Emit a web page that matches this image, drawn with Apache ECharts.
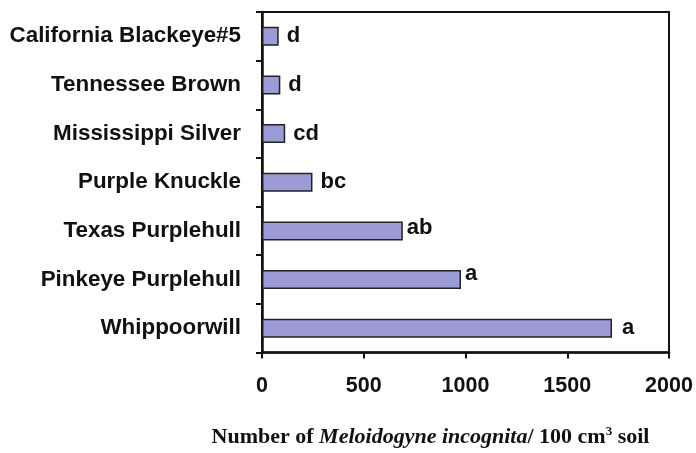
<!DOCTYPE html>
<html>
<head>
<meta charset="utf-8">
<script src="https://cdn.jsdelivr.net/npm/echarts@6/dist/echarts.min.js"></script>
<style>html,body{margin:0;padding:0;background:#fff;}#c{width:696px;height:453px;}</style>
</head>
<body>
<div id="c"></div>
<script>
const categories = ["California Blackeye#5", "Tennessee Brown", "Mississippi Silver", "Purple Knuckle", "Texas Purplehull", "Pinkeye Purplehull", "Whippoorwill"];
const values = [82, 90, 114, 248, 692, 978, 1720];
const letters = ["d", "d", "cd", "bc", "ab", "a", "a"];
const xTicks = [0, 500, 1000, 1500, 2000];

const chart = echarts.init(document.getElementById('c'));
const sans = '"Liberation Sans", Arial, sans-serif';
const serif = '"Liberation Serif", "Times New Roman", serif';
// small per-bar label nudges seen in the original figure
const labelTweaks = { 4: { distance: 4, offset: [0, -3] }, 5: { distance: 4, offset: [0, -6] }, 6: { distance: 10 } };
chart.setOption({
  animation: false,
  grid: { left: 262, right: 27, top: 12, bottom: 100, show: true, borderColor: '#111', borderWidth: 2, backgroundColor: 'transparent' },
  xAxis: {
    type: 'value', min: xTicks[0], max: xTicks[xTicks.length - 1], interval: 500,
    axisLine: { show: true, lineStyle: { color: '#111', width: 2.5 } },
    axisTick: { show: true, inside: false, length: 6, lineStyle: { color: '#111', width: 2 } },
    splitLine: { show: false },
    axisLabel: { margin: 23, color: '#111', fontFamily: sans, fontWeight: 'bold', fontSize: 21.5, formatter: v => String(v) },
    name: '{b|Number of }{i|Meloidogyne incognita}{b|/ 100 cm}{s|3}{b| soil}',
    nameLocation: 'middle', nameGap: 73,
    nameTextStyle: {
      padding: [0, 70, 0, 0],
      rich: {
        b: { fontFamily: serif, fontWeight: 'bold', fontSize: 22, color: '#111' },
        i: { fontFamily: serif, fontWeight: 'bold', fontStyle: 'italic', fontSize: 22, color: '#111' },
        s: { fontFamily: serif, fontWeight: 'bold', fontSize: 13, color: '#111', padding: [0, 0, 10, 0] }
      }
    }
  },
  yAxis: {
    type: 'category', data: categories, inverse: true,
    axisLine: { show: true, lineStyle: { color: '#111', width: 2.5 } },
    axisTick: { show: true, inside: false, length: 6, alignWithLabel: false, lineStyle: { color: '#111', width: 2 } },
    axisLabel: { margin: 21, color: '#111', fontFamily: sans, fontWeight: 'bold', fontSize: 22.4 },
    splitLine: { show: false }
  },
  series: [{
    type: 'bar',
    data: values.map((v, i) => ({ value: v, label: Object.assign({ formatter: letters[i] }, labelTweaks[i] || {}) })),
    barWidth: 19,
    itemStyle: { color: '#9b9bd8', borderColor: '#222', borderWidth: 1.5 },
    label: { show: true, position: 'right', distance: 8, color: '#111', fontFamily: sans, fontWeight: 'bold', fontSize: 22 }
  }]
});
</script>
</body>
</html>
